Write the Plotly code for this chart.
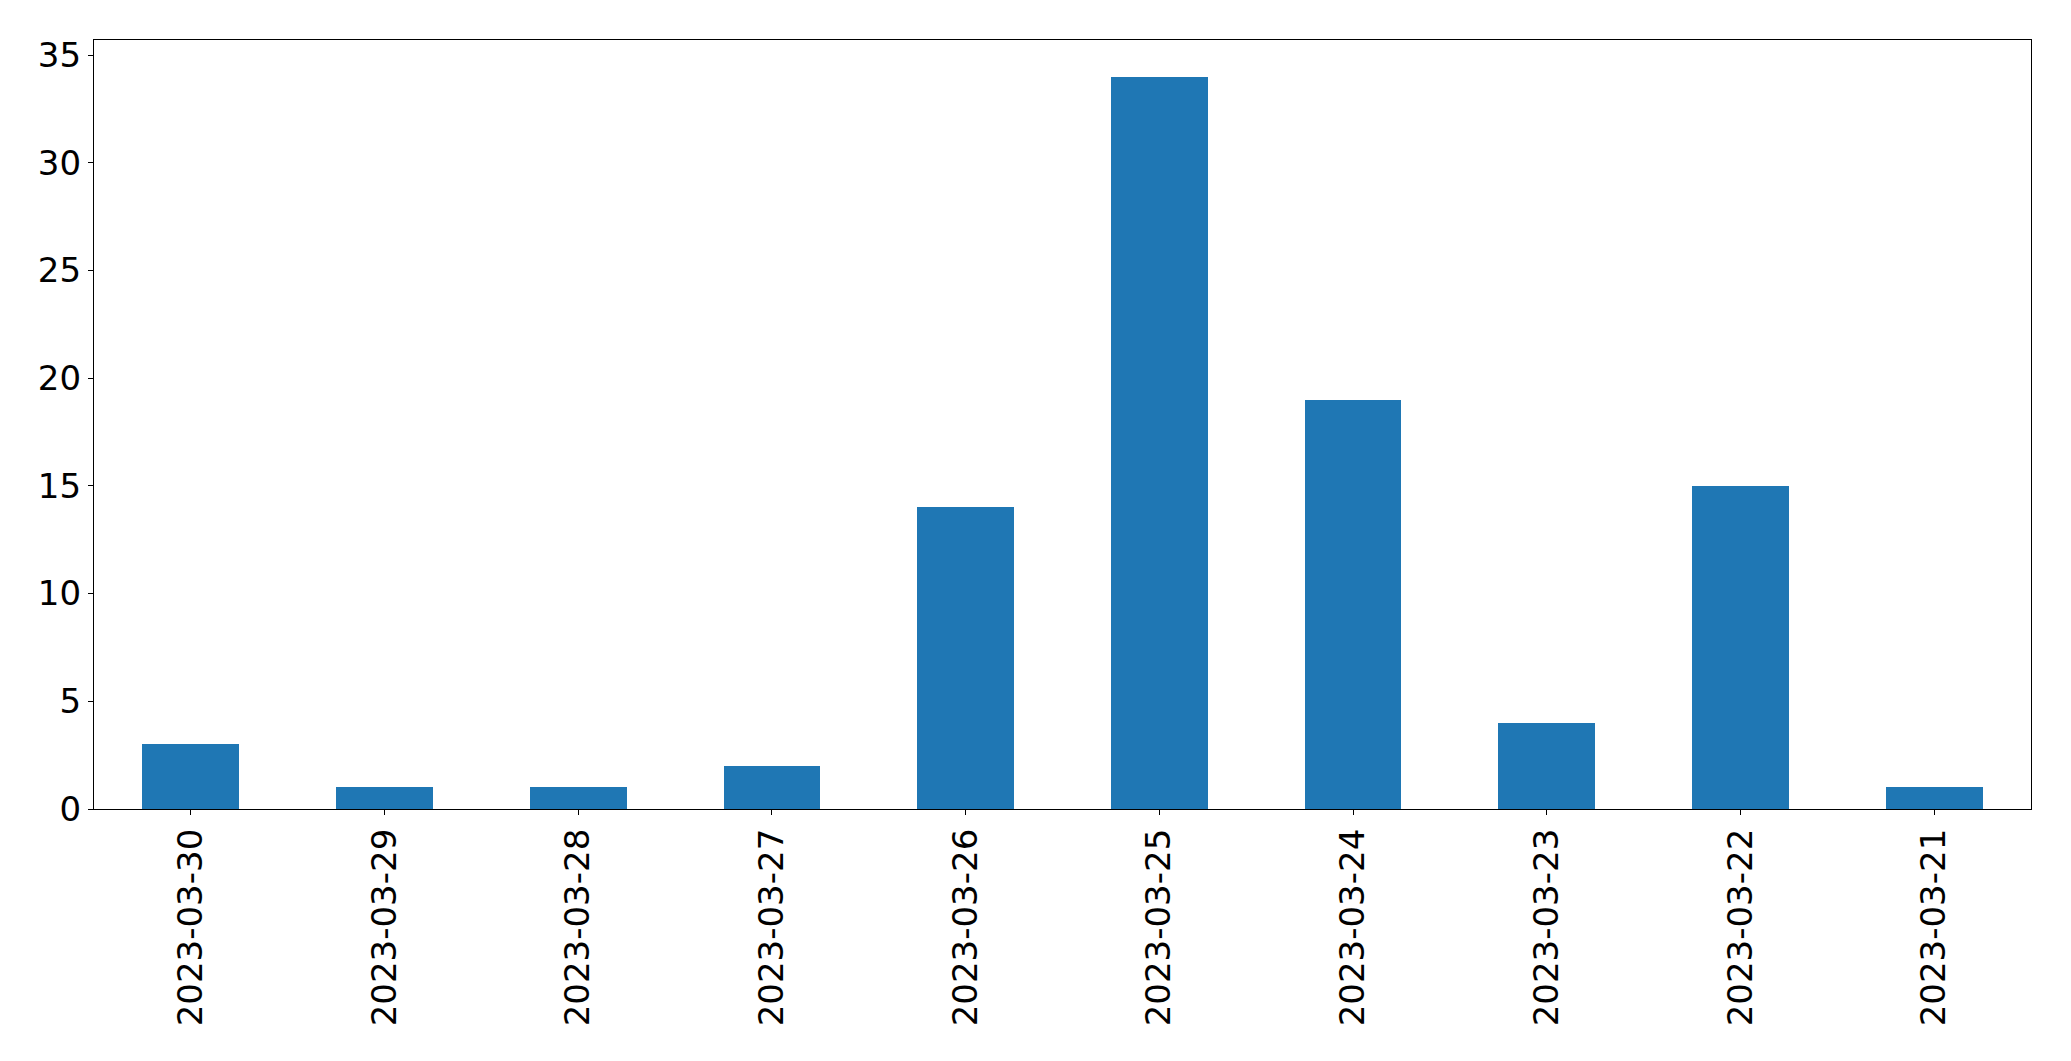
import plotly.graph_objects as go

dates = ["2023-03-30", "2023-03-29", "2023-03-28", "2023-03-27", "2023-03-26",
         "2023-03-25", "2023-03-24", "2023-03-23", "2023-03-22", "2023-03-21"]
counts = [3, 1, 1, 2, 14, 34, 19, 4, 15, 1]
y_ticks = [0, 5, 10, 15, 20, 25, 30, 35]

fig = go.Figure(go.Bar(
    x=list(range(len(dates))), y=counts, width=0.5,
    marker=dict(color="#1f77b4", line=dict(width=0)),
))

fig.update_layout(
    width=2071, height=1061,
    margin=dict(l=94, r=40, t=40, b=252, pad=0),
    plot_bgcolor="white", paper_bgcolor="white",
    font=dict(family="DejaVu Sans", size=34, color="black"),
    showlegend=False, bargap=0,
)
fig.update_xaxes(
    range=[-0.5, len(dates) - 0.5], automargin=False,
    tickmode="array", tickvals=list(range(len(dates))), ticktext=dates,
    tickangle=-90, ticks="outside", ticklen=5, tickwidth=1.2, tickcolor="black",
    showline=True, linecolor="black", linewidth=1.3, mirror=True,
    showgrid=False, zeroline=False,
)
fig.update_yaxes(
    range=[0, 35.7], tickmode="array", tickvals=y_ticks, automargin=False,
    ticks="outside", ticklen=5, tickwidth=1.2, tickcolor="black",
    showline=True, linecolor="black", linewidth=1.3, mirror=True,
    showgrid=False, zeroline=False,
)

fig.write_html("out.html", config={"displayModeBar": False},
               post_script="document.body.style.margin='0';document.body.style.overflow='hidden';")
